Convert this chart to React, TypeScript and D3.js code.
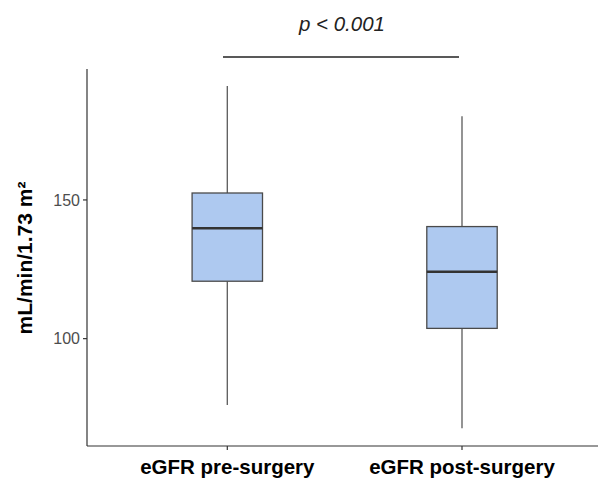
import React from "react";
import * as d3 from "d3";

// Box-plot summary per group (mL/min/1.73 m²)
const groups = ["eGFR pre-surgery", "eGFR post-surgery"];
const whiskerLow = [76.1, 67.7];
const q1 = [120.7, 103.7];
const median = [139.8, 124.1];
const q3 = [152.5, 140.4];
const whiskerHigh = [191.1, 180.2];
const yTicks = [100, 150];
const pLabel = "p < 0.001";

const W = 598;
const H = 486;
const left = 87;
const top = 69;
const bottom = 446;

export default function App() {
  const x = d3.scalePoint<string>().domain(groups).range([227.3, 462]);
  const step = x.step();
  const boxW = step * 0.3;
  const y = d3.scaleLinear().domain([61.3, 197.2]).range([bottom, top]);
  const font = "'Liberation Sans', Arial, Helvetica, sans-serif";
  const axisColor = "#333333";

  return (
    <svg width={W} height={H} style={{ position: "absolute", left: 0, top: 0 }}>
      <rect width={W} height={H} fill="#ffffff" />
      {/* boxes */}
      {groups.map((g, i) => {
        const cx = x(g)!;
        return (
          <g key={g}>
            <line x1={cx} x2={cx} y1={y(whiskerHigh[i])} y2={y(q3[i])} stroke="#5a5a5a" strokeWidth={1.3} />
            <line x1={cx} x2={cx} y1={y(q1[i])} y2={y(whiskerLow[i])} stroke="#5a5a5a" strokeWidth={1.3} />
            <rect
              x={cx - boxW / 2}
              y={y(q3[i])}
              width={boxW}
              height={y(q1[i]) - y(q3[i])}
              fill="#aec9f0"
              stroke="#4a4a4a"
              strokeWidth={1.3}
            />
            <line x1={cx - boxW / 2} x2={cx + boxW / 2} y1={y(median[i])} y2={y(median[i])} stroke="#333333" strokeWidth={2.4} />
          </g>
        );
      })}
      {/* axes */}
      <line x1={left} x2={left} y1={top} y2={bottom} stroke={axisColor} strokeWidth={1.2} />
      <line x1={left} x2={W} y1={bottom} y2={bottom} stroke={axisColor} strokeWidth={1.2} />
      {yTicks.map((t) => (
        <g key={t}>
          <line x1={left - 4} x2={left} y1={y(t)} y2={y(t)} stroke={axisColor} strokeWidth={1.2} />
          <text x={left - 7} y={y(t)} dy="0.36em" textAnchor="end" fontFamily={font} fontSize={16} fill="#4d4d4d">
            {t}
          </text>
        </g>
      ))}
      {groups.map((g) => (
        <g key={g}>
          <line x1={x(g)} x2={x(g)} y1={bottom} y2={bottom + 4} stroke={axisColor} strokeWidth={1.2} />
          <text x={x(g)} y={bottom + 28} textAnchor="middle" fontFamily={font} fontSize={20.5} fontWeight="bold" fill="#000">
            {g}
          </text>
        </g>
      ))}
      <text
        transform={`translate(32, ${(178 + 338) / 2}) rotate(-90)`}
        textAnchor="middle"
        fontFamily={font}
        fontSize={21}
        fontWeight="bold"
        fill="#000"
      >
        mL/min/1.73 m²
      </text>
      {/* significance bracket */}
      <line x1={223} x2={459} y1={57} y2={57} stroke="#222" strokeWidth={1.5} />
      <text x={342} y={31} textAnchor="middle" fontFamily={font} fontSize={20.5} fontStyle="italic" fill="#222">
        {pLabel}
      </text>
    </svg>
  );
}
